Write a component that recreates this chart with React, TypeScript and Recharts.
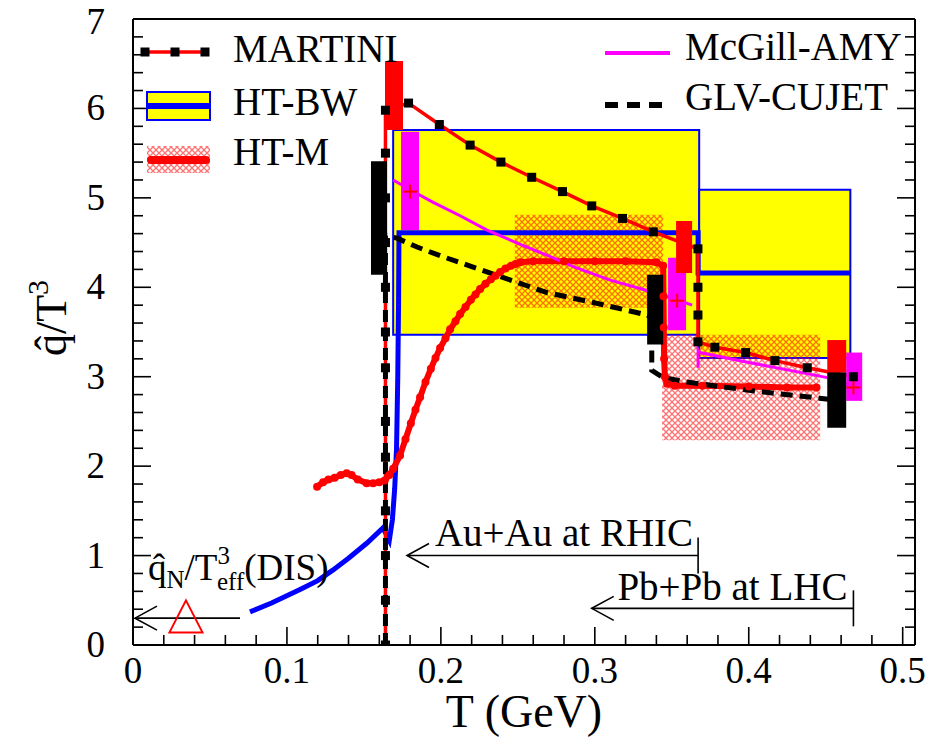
import React from "react";
import {
  ComposedChart,
  Line,
  Scatter,
  XAxis,
  YAxis,
  ReferenceArea,
  ReferenceLine,
  Legend,
} from "recharts";

const FONT = '"Liberation Serif", "Times New Roman", serif';

// MARTINI: red line with black markers
const martiniT = [0.164, 0.164, 0.164, 0.164, 0.164, 0.164, 0.164, 0.164, 0.164, 0.164, 0.164, 0.164, 0.164, 0.179, 0.199, 0.219, 0.239, 0.259, 0.279, 0.298, 0.318, 0.338, 0.367, 0.367, 0.367, 0.367, 0.378, 0.398, 0.417, 0.438, 0.468];
const martiniQ = [0, 0.5, 1.0, 1.5, 2.1, 2.5, 3.1, 3.5, 4.0, 4.5, 5.0, 5.5, 5.98, 6.06, 5.82, 5.59, 5.4, 5.23, 5.07, 4.91, 4.77, 4.62, 4.43, 4.0, 3.69, 3.39, 3.33, 3.27, 3.18, 3.1, 3.0];
const martiniErrT = [[0.1637, 0.1754], [0.3528, 0.3632], [0.451, 0.4633]];
const martiniErrQ = [[5.76, 6.53], [4.16, 4.74], [3.05, 3.41]];

// HT-BW: blue curve + yellow boxes
const htbwT = [0.076, 0.09, 0.1085, 0.12, 0.13, 0.14, 0.152, 0.1624, 0.1665, 0.1685, 0.17, 0.1712, 0.172, 0.1725, 0.1728, 0.3671, 0.3671, 0.466];
const htbwQ = [0.37, 0.47, 0.62, 0.72, 0.84, 0.97, 1.14, 1.31, 1.17, 1.4, 1.75, 2.2, 3.0, 3.8, 4.61, 4.61, 4.16, 4.16];
const htbwBoxT = [[0.169, 0.3678], [0.3678, 0.466]];
const htbwBoxQ = [[3.47, 5.76], [3.21, 5.09]];

// HT-M: red curve with beads + hatched bands
const htmT = [0.1196, 0.1235, 0.127, 0.131, 0.135, 0.1388, 0.142, 0.146, 0.1518, 0.156, 0.16, 0.1635, 0.1665, 0.169, 0.1735, 0.177, 0.1805, 0.1835, 0.1865, 0.19, 0.1935, 0.1965, 0.1995, 0.203, 0.206, 0.2095, 0.2125, 0.216, 0.2195, 0.2225, 0.2255, 0.229, 0.2325, 0.2355, 0.2385, 0.242, 0.2455, 0.2485, 0.2515, 0.26, 0.28, 0.3, 0.32, 0.34, 0.3444, 0.3446, 0.3448, 0.345, 0.3455, 0.347, 0.352, 0.37, 0.4, 0.425, 0.444];
const htmQ = [1.77, 1.82, 1.85, 1.87, 1.9, 1.92, 1.9, 1.85, 1.81, 1.81, 1.82, 1.84, 1.9, 1.97, 2.12, 2.3, 2.48, 2.63, 2.77, 2.94, 3.09, 3.21, 3.32, 3.43, 3.53, 3.62, 3.7, 3.78, 3.86, 3.92, 3.98, 4.04, 4.09, 4.13, 4.17, 4.21, 4.24, 4.26, 4.28, 4.29, 4.29, 4.29, 4.29, 4.28, 4.24, 3.9, 3.55, 3.2, 3.0, 2.92, 2.9, 2.9, 2.89, 2.88, 2.88];
const htmBandT = [[0.248, 0.3444], [0.3437, 0.4464]];
const htmBandQ = [[3.77, 4.81], [2.29, 3.47]];

// McGill-AMY: magenta lines, magenta error boxes, red crosses
const mcgillRhicT = [0.169, 0.18, 0.195, 0.2125, 0.23, 0.2515, 0.27, 0.286, 0.31, 0.3327, 0.3535, 0.3632];
const mcgillRhicQ = [5.2, 5.09, 4.95, 4.8, 4.64, 4.48, 4.35, 4.23, 4.08, 3.97, 3.86, 3.8];
const mcgillLhcT = [0.3671, 0.3671, 0.3684, 0.4, 0.43, 0.451, 0.468];
const mcgillLhcQ = [3.1, 3.3, 3.27, 3.16, 3.06, 2.99, 2.89];
const mcgillErrT = [[0.1741, 0.1858], [0.3476, 0.3593], [0.4633, 0.4737]];
const mcgillErrQ = [[4.64, 5.74], [3.52, 4.33], [2.73, 3.27]];
const mcgillCentT = [0.18, 0.3535, 0.468];
const mcgillCentQ = [5.07, 3.85, 2.88];

// GLV-CUJET: black dashed line + black error boxes
const glvT = [0.164, 0.164, 0.1715, 0.1845, 0.2, 0.2385, 0.269, 0.299, 0.334, 0.337, 0.337, 0.3444, 0.36, 0.381, 0.414, 0.446, 0.46];
const glvQ = [0, 4.58, 4.55, 4.45, 4.35, 4.12, 3.94, 3.83, 3.69, 3.66, 3.07, 2.99, 2.94, 2.89, 2.82, 2.76, 2.73];
const glvErrT = [[0.1546, 0.165], [0.334, 0.3444], [0.451, 0.4633]];
const glvErrQ = [[4.14, 5.41], [3.36, 4.14], [2.43, 3.05]];

// DIS point and the range arrows
const disT = [0.0344];
const disQ = [0.32];
const arrowLabels = ["Au+Au at RHIC", "Pb+Pb at LHC", "DIS"];
const arrowFromT = [0.3671, 0.468, 0.0695];
const arrowToT = [0.178, 0.298, 0.0013];
const arrowQ = [1.0, 0.41, 0.3];

const xTicks = Array.from({ length: 26 }, (_, i) => i / 50);
const yTicks = Array.from({ length: 36 }, (_, i) => i / 5);

const zip = (xs: number[], ys: number[]) => xs.map((x, i) => ({ x, y: ys[i] }));

const isMajorX = (v: number) => Math.abs(v * 10 - Math.round(v * 10)) < 1e-6;
const isMajorY = (v: number) => Math.abs(v - Math.round(v)) < 1e-6;

function makeTick(side: "bottom" | "top" | "left" | "right") {
  return (props: any) => {
    const { x, y, payload } = props;
    const v = payload.value;
    const horiz = side === "bottom" || side === "top";
    const major = horiz ? isMajorX(v) : isMajorY(v);
    const len = major ? 18 : 10;
    let line;
    if (side === "bottom") line = <line x1={x} y1={y} x2={x} y2={y - len} />;
    else if (side === "top") line = <line x1={x} y1={y} x2={x} y2={y + len} />;
    else if (side === "left") line = <line x1={x} y1={y} x2={x + len} y2={y} />;
    else line = <line x1={x} y1={y} x2={x - len} y2={y} />;
    let label = null;
    if (major && side === "bottom") {
      label = (
        <text x={x} y={y + 38} textAnchor="middle" fontSize={37} fill="#000" stroke="none">
          {String(Math.round(v * 10) / 10)}
        </text>
      );
    } else if (major && side === "left") {
      // keep the top label's glyph box inside the page
      label = (
        <text x={x - 28} y={Math.max(y + 12, 34)} textAnchor="end" fontSize={37} fill="#000" stroke="none">
          {String(Math.round(v))}
        </text>
      );
    }
    return (
      <g stroke="#000" strokeWidth={1.6}>
        {line}
        {label}
      </g>
    );
  };
}

function xTitle(props: any) {
  const vb = props.viewBox || { x: 133, y: 645, width: 782, height: 94 };
  return (
    <text x={vb.x + vb.width / 2} y={vb.y + vb.height - 12} textAnchor="middle" fontSize={46} fill="#000" fontFamily={FONT}>
      T (GeV)
    </text>
  );
}

function yTitle(props: any) {
  const vb = props.viewBox || { x: 0, y: 19, width: 133, height: 626 };
  const cx = 66;
  const cy = vb.y + vb.height / 2 - 14;
  return (
    <text transform={`translate(${cx},${cy}) rotate(-90)`} textAnchor="middle" fontSize={44} fill="#000" fontFamily={FONT}>
      {"q\u0302/T"}
      <tspan fontSize={30} dy={-18}>3</tspan>
    </text>
  );
}

function arrowLabel(i: number, left: number, right: number, y: number) {
  if (i === 0)
    return (
      <text x={right - 5} y={y - 10} textAnchor="end" fontSize={39} fill="#000">
        {arrowLabels[0]}
      </text>
    );
  if (i === 1)
    return (
      <text x={right - 6} y={y - 8} textAnchor="end" fontSize={39} fill="#000">
        {arrowLabels[1]}
      </text>
    );
  return (
    <text x={left + 13} y={y - 38} fontSize={37} fill="#000">
      {"q\u0302"}
      <tspan fontSize={25} dy={8}>N</tspan>
      <tspan dy={-8}>/T</tspan>
      <tspan fontSize={25} dy={-16}>3</tspan>
      <tspan fontSize={25} dx={-13} dy={26}>eff</tspan>
      <tspan dy={-10}>(DIS)</tspan>
    </text>
  );
}

function arrowShape(i: number, endTick: boolean) {
  return (p: any) => {
    const left = Math.min(p.x1, p.x2);
    const right = Math.max(p.x1, p.x2);
    const y = p.y1;
    return (
      <g fontFamily={FONT}>
        <line x1={left} y1={y} x2={right} y2={y} stroke="#000" strokeWidth={1.6} />
        <polyline
          points={`${left + 22},${y - 12} ${left},${y} ${left + 22},${y + 12}`}
          fill="none"
          stroke="#000"
          strokeWidth={1.6}
        />
        {endTick && <line x1={right} y1={y - 18} x2={right} y2={y + 18} stroke="#000" strokeWidth={1.6} />}
        {arrowLabel(i, left, right, y)}
      </g>
    );
  };
}

const squareDot = (p: any) => (
  <rect key={`sq${p.index}`} x={p.cx - 4.5} y={p.cy - 4.5} width={9} height={9} fill="#000" />
);
const beadDot = (p: any) => <circle key={`bd${p.index}`} cx={p.cx} cy={p.cy} r={4} fill="#ff0000" />;

const plusShape = (p: any) => (
  <g stroke="#ff0000" strokeWidth={2}>
    <line x1={p.cx - 7} y1={p.cy} x2={p.cx + 7} y2={p.cy} />
    <line x1={p.cx} y1={p.cy - 7} x2={p.cx} y2={p.cy + 7} />
  </g>
);
const triangleShape = (p: any) => (
  <polygon
    points={`${p.cx},${p.cy - 16} ${p.cx - 16.5},${p.cy + 16} ${p.cx + 16.5},${p.cy + 16}`}
    fill="none"
    stroke="#ff0000"
    strokeWidth={2}
  />
);

const legendLeft = ["MARTINI", "HT-BW", "HT-M"];
const legendRight = ["McGill-AMY", "GLV-CUJET"];

function LegendBlock() {
  return (
    <svg width={936} height={200} style={{ fontFamily: FONT, overflow: "visible" }}>
      <defs>
        <pattern id="legHatch" width={6} height={6} patternUnits="userSpaceOnUse">
          <path d="M0,0 L6,6 M6,0 L0,6" stroke="#ff0000" strokeWidth={1.3} strokeOpacity={0.55} />
        </pattern>
      </defs>
      {/* MARTINI */}
      <line x1={145} y1={52} x2={205} y2={52} stroke="#ff0000" strokeWidth={3.5} />
      {[145, 175, 205].map((x) => (
        <rect key={x} x={x - 4.5} y={47.5} width={9} height={9} fill="#000" />
      ))}
      <text x={233} y={62} fontSize={39} fill="#000">{legendLeft[0]}</text>
      {/* HT-BW */}
      <rect x={147} y={92} width={63} height={28} fill="#ffff00" stroke="#0000ff" strokeWidth={2} />
      <line x1={147} y1={106} x2={210} y2={106} stroke="#0000ff" strokeWidth={6} />
      <text x={233} y={115} fontSize={39} fill="#000">{legendLeft[1]}</text>
      {/* HT-M */}
      <rect x={147} y={146} width={63} height={27} fill="url(#legHatch)" />
      <line x1={151} y1={160} x2={206} y2={160} stroke="#ff0000" strokeWidth={8} strokeLinecap="round" />
      <text x={233} y={165} fontSize={39} fill="#000">{legendLeft[2]}</text>
      {/* McGill-AMY */}
      <line x1={605} y1={53} x2={670} y2={53} stroke="#ff00ff" strokeWidth={4} />
      <text x={685} y={60} fontSize={39} fill="#000">{legendRight[0]}</text>
      {/* GLV-CUJET */}
      <line x1={605} y1={105} x2={662} y2={105} stroke="#000" strokeWidth={6} strokeDasharray="13 9" />
      <text x={685} y={110} fontSize={39} fill="#000">{legendRight[1]}</text>
    </svg>
  );
}

const bands = (ts: number[][], qs: number[][]) => ts.map((t, i) => ({ x1: t[0], x2: t[1], y1: qs[i][0], y2: qs[i][1] }));

export default function App() {
  const axisLine = { stroke: "#000", strokeWidth: 2 };
  return (
    <div style={{ position: "absolute", left: 0, top: 0, width: 936, height: 739, background: "#fff", fontFamily: FONT }}>
      <ComposedChart width={936} height={739} margin={{ top: 18, right: 20, bottom: 0, left: 0 }} style={{ fontFamily: FONT }}>
        <defs>
          <pattern id="htmHatch" width={6} height={6} patternUnits="userSpaceOnUse">
            <path d="M0,0 L6,6 M6,0 L0,6" stroke="#ff0000" strokeWidth={1.3} strokeOpacity={0.55} />
          </pattern>
        </defs>
        <XAxis
          dataKey="x"
          type="number"
          domain={[0, 0.508]}
          allowDataOverflow
          ticks={xTicks}
          interval={0}
          tickSize={0}
          tickMargin={0}
          tickLine={false}
          axisLine={axisLine}
          height={94}
          tick={makeTick("bottom")}
          label={xTitle}
        />
        <XAxis
          xAxisId="top"
          orientation="top"
          type="number"
          domain={[0, 0.508]}
          allowDataOverflow
          ticks={xTicks}
          interval={0}
          tickSize={0}
          tickMargin={0}
          tickLine={false}
          axisLine={axisLine}
          height={1}
          tick={makeTick("top")}
        />
        <YAxis
          dataKey="y"
          type="number"
          domain={[0, 7]}
          allowDataOverflow
          ticks={yTicks}
          interval={0}
          tickSize={0}
          tickMargin={0}
          tickLine={false}
          axisLine={axisLine}
          width={133}
          tick={makeTick("left")}
          label={yTitle}
        />
        <YAxis
          yAxisId="right"
          orientation="right"
          type="number"
          domain={[0, 7]}
          allowDataOverflow
          ticks={yTicks}
          interval={0}
          tickSize={0}
          tickMargin={0}
          tickLine={false}
          axisLine={axisLine}
          width={1}
          tick={makeTick("right")}
        />

        {bands(htbwBoxT, htbwBoxQ).map((b, i) => (
          <ReferenceArea key={`bw${i}`} {...b} fill="#ffff00" fillOpacity={1} stroke="#0000ff" strokeWidth={2} zIndex={50} />
        ))}
        {bands(htmBandT, htmBandQ).map((b, i) => (
          <ReferenceArea key={`hm${i}`} {...b} fill="url(#htmHatch)" fillOpacity={1} stroke="none" zIndex={60} />
        ))}

        <Line data={zip(htbwT, htbwQ)} dataKey="y" stroke="#0000ff" strokeWidth={5} dot={false} activeDot={false} isAnimationActive={false} legendType="none" />
        <Line data={zip(htmT, htmQ)} dataKey="y" stroke="#ff0000" strokeWidth={6} strokeLinejoin="round" dot={beadDot} activeDot={false} isAnimationActive={false} legendType="none" />
        <Line data={zip(mcgillRhicT, mcgillRhicQ)} dataKey="y" stroke="#ff00ff" strokeWidth={3} dot={false} activeDot={false} isAnimationActive={false} legendType="none" />
        <Line data={zip(mcgillLhcT, mcgillLhcQ)} dataKey="y" stroke="#ff00ff" strokeWidth={3} dot={false} activeDot={false} isAnimationActive={false} legendType="none" />
        <Line data={zip(martiniT, martiniQ)} dataKey="y" stroke="#ff0000" strokeWidth={3.5} dot={squareDot} activeDot={false} isAnimationActive={false} legendType="none" />
        <Line data={zip(glvT, glvQ)} dataKey="y" stroke="#000" strokeWidth={5} strokeDasharray="12 7" dot={false} activeDot={false} isAnimationActive={false} legendType="none" />

        {bands(mcgillErrT, mcgillErrQ).map((b, i) => (
          <ReferenceArea key={`mg${i}`} {...b} fill="#ff00ff" fillOpacity={1} stroke="none" zIndex={450} />
        ))}
        {bands(glvErrT, glvErrQ).map((b, i) => (
          <ReferenceArea key={`gl${i}`} {...b} fill="#000" fillOpacity={1} stroke="none" zIndex={450} />
        ))}
        {bands(martiniErrT, martiniErrQ).map((b, i) => (
          <ReferenceArea key={`mt${i}`} {...b} fill="#ff0000" fillOpacity={1} stroke="none" zIndex={460} />
        ))}

        {arrowQ.map((q, i) => (
          <ReferenceLine
            key={`ar${i}`}
            segment={[
              { x: arrowFromT[i], y: q },
              { x: arrowToT[i], y: q },
            ]}
            shape={arrowShape(i, i < 2)}
            ifOverflow="visible"
          />
        ))}

        <Scatter data={zip(mcgillCentT, mcgillCentQ)} dataKey="y" shape={plusShape} isAnimationActive={false} legendType="none" />
        <Scatter data={zip(disT, disQ)} dataKey="y" shape={triangleShape} isAnimationActive={false} legendType="none" />

        <Legend
          layout="vertical"
          align="center"
          verticalAlign="middle"
          content={() => <LegendBlock />}
          wrapperStyle={{ left: 0, top: 0, width: 936, height: 200, pointerEvents: "none" }}
        />
      </ComposedChart>
    </div>
  );
}
